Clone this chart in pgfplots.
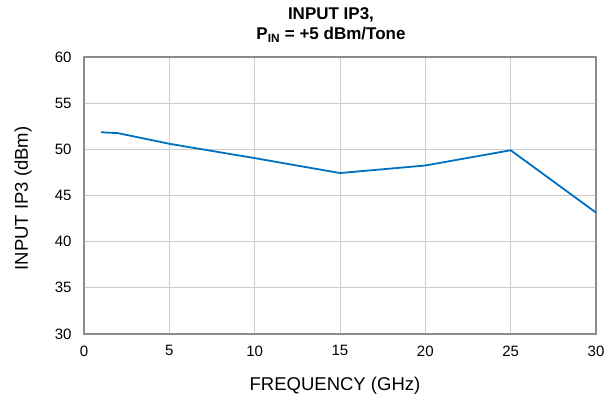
\documentclass[border=0pt]{standalone}
\usepackage{fontspec}
\setmainfont{Liberation Sans}
\usepackage{pgfplots}
\pgfplotsset{compat=1.18}
\definecolor{frame}{HTML}{8C8C8C}
\definecolor{gridc}{HTML}{CDCDCD}
\definecolor{line}{HTML}{0070C0}
\begin{document}
\begin{tikzpicture}
\path[use as bounding box] (-84pt,-64pt) rectangle (532pt,57pt+277pt);
\begin{axis}[
  scale only axis,
  width=512pt, height=277pt,
  xmin=0, xmax=30, ymin=30, ymax=60,
  xtick={0,5,...,30}, ytick={30,35,...,60},
  grid=major,
  major grid style={gridc, line width=1pt},
  axis line style={frame, line width=1.8pt},
  tick style={draw=none},
  ticklabel style={font=\fontsize{15}{17}\selectfont},
  xticklabel style={yshift=-8pt},
  yticklabel style={xshift=-9pt},
  /pgf/number format/assume math mode=true,
  xlabel={FREQUENCY (GHz)},
  ylabel={INPUT IP3 (dBm)},
  label style={font=\fontsize{18.5}{20}\selectfont},
  xlabel style={at={(axis description cs:0.5,0)}, anchor=base, yshift=-57pt, xshift=-5pt},
  ylabel style={at={(axis description cs:0,0.5)}, anchor=base, yshift=56pt, xshift=-3pt},
  title={\textbf{INPUT IP3,}\\\textbf{P\textsubscript{IN} = +5 dBm/Tone}},
  title style={align=center, font=\fontsize{17}{20.5}\selectfont, at={(axis description cs:0.5,1)}, anchor=north, inner sep=0pt, yshift=44pt, xshift=-9pt},
]
\addplot[line, line width=1.8pt] coordinates {
  (1,51.85) (2,51.75) (5,50.6) (10,49.05) (15,47.43) (20,48.25) (25,49.9) (30,43.15)
};
\end{axis}
\end{tikzpicture}
\end{document}
